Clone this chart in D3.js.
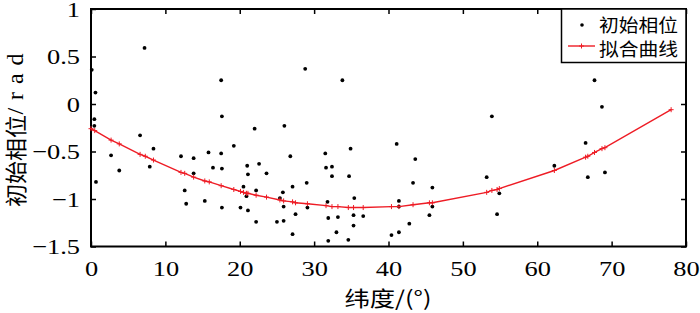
<!DOCTYPE html>
<html>
<head>
<meta charset="utf-8">
<script src="https://cdn.jsdelivr.net/npm/d3@7"></script>
<style>
  body { margin: 0; background: #fff; }
  svg { display: block; }
</style>
</head>
<body>
<svg id="chart"></svg>
<script>
// observed points: latitude (deg) and initial phase (rad)
var latitude = [0.1, 0.6, 0.45, 0.45, 0.67, 2.7, 3.8, 6.6, 7.2, 7.9, 8.4, 12.1, 12.6, 12.8, 13.8, 13.8,
  15.3, 15.8, 16.4, 17.5, 17.6, 17.5, 17.6, 17.6, 19.2, 20.1, 20.5, 20.9, 21.0, 21.1, 21.1, 22.0, 22.2,
  22.2, 22.6, 23.6, 25.0, 25.4, 25.8, 25.9, 25.9, 26.0, 26.8, 27.1, 27.1, 27.5, 28.8, 29.0, 29.1, 31.5,
  31.6, 31.8, 31.9, 31.9, 32.4, 32.4, 33.0, 33.2, 33.8, 34.6, 34.7, 34.9, 35.3, 35.3, 35.4, 36.6, 40.4,
  41.1, 41.4, 41.4, 41.4, 42.8, 43.3, 43.6, 45.5, 45.9, 45.9, 53.2, 53.9, 54.6, 54.9, 62.3, 66.5, 66.8,
  67.7, 68.7, 69.1];
var phase = [0.36, 0.12, -0.16, -0.23, -0.82, -0.54, -0.70, -0.33, 0.59, -0.66, -0.47, -0.55, -0.91, -1.05, -0.57, -0.73,
  -1.02, -0.51, -0.67, 0.25, -0.13, -0.52, -0.68, -1.09, -0.44, -1.09, -0.87, -0.97, -0.65, -0.74, -1.12, -0.26, -0.91,
  -1.24, -0.63, -0.73, -1.24, -0.99, -0.93, -1.08, -1.23, -0.23, -0.55, -0.87, -1.37, -1.16, 0.37, -0.83, -1.09, -0.52,
  -0.67, -1.03, -1.20, -1.44, -0.66, -0.76, -1.35, -1.19, 0.25, -1.43, -0.76, -0.47, -1.17, -1.28, -0.99, -1.18, -1.38,
  -0.42, -1.35, -1.02, -1.08, -1.26, -0.83, -0.58, -1.17, -0.88, -1.08, -0.77, -0.13, -1.16, -0.94, -0.65, -0.41, -0.77,
  0.25, -0.03, -0.72];

// fitted curve, read at the marker positions
var fitLat = [0, 0.5, 2.7, 3.8, 6.6, 7.3, 8.4, 12.1, 12.6, 13.8, 15.3, 15.9, 17.5, 19.2, 20.1, 20.5, 20.9, 21.1,
  22.2, 23.6, 25.4, 25.9, 27.1, 27.5, 29.1, 31.6, 32.4, 33.2, 34.6, 35.3, 36.6, 40.4, 41.4, 43.3, 45.5, 45.9,
  53.2, 53.9, 54.6, 54.9, 62.3, 66.5, 66.8, 67.7, 68.7, 69.1, 78.0];
var fitPhase = [-0.26, -0.28, -0.38, -0.42, -0.53, -0.55, -0.59, -0.72, -0.73, -0.77, -0.81, -0.82, -0.86, -0.90,
  -0.92, -0.93, -0.94, -0.94, -0.96, -0.98, -1.01, -1.02, -1.03, -1.04, -1.05, -1.07, -1.08, -1.08, -1.09, -1.09,
  -1.09, -1.08, -1.08, -1.06, -1.04, -1.04, -0.93, -0.91, -0.90, -0.89, -0.70, -0.56, -0.55, -0.51, -0.47, -0.46,
  -0.06];

var xTicks = [0, 10, 20, 30, 40, 50, 60, 70, 80];
var yTicks = [1, 0.5, 0, -0.5, -1, -1.5];
var legendNames = ["初始相位", "拟合曲线"];

var width = 700, height = 313;
var margin = { left: 91, right: 14, top: 9, bottom: 66.5 };
var red = "#ee1c25";
var serif = "'Liberation Serif', 'Times New Roman', Times, serif";
var cjk = "'Noto Sans CJK SC', sans-serif";

var svg = d3.select("#chart").attr("width", width).attr("height", height);

var x = d3.scaleLinear().domain([0, 80]).range([margin.left, width - margin.right]);
var y = d3.scaleLinear().domain([-1.5, 1]).range([height - margin.bottom, margin.top]);

// axes with inward ticks on all four sides
var bottom = svg.append("g")
  .attr("transform", "translate(0," + y(-1.5) + ")")
  .call(d3.axisBottom(x).tickValues(xTicks).tickSizeInner(-5).tickSizeOuter(0).tickPadding(14)
    .tickFormat(d3.format("d")));
var left = svg.append("g")
  .attr("transform", "translate(" + x(0) + ",0)")
  .call(d3.axisLeft(y).tickValues(yTicks).tickSizeInner(-5).tickSizeOuter(0).tickPadding(11)
    .tickFormat(function(d) { return d3.format("")(d).replace("-", "\u2212"); }));
svg.append("g")
  .attr("transform", "translate(0," + y(1) + ")")
  .call(d3.axisTop(x).tickValues(xTicks).tickSizeInner(-5).tickSizeOuter(0).tickFormat(""));
svg.append("g")
  .attr("transform", "translate(" + x(80) + ",0)")
  .call(d3.axisRight(y).tickValues(yTicks).tickSizeInner(-5).tickSizeOuter(0).tickFormat(""));

svg.selectAll(".domain").remove();
svg.selectAll(".tick line").attr("stroke", "#000").attr("stroke-width", 1.5);
svg.selectAll("g").attr("font-family", serif);

// tick labels: wide Times-like figures
bottom.selectAll(".tick text")
  .style("font-family", serif).attr("font-size", 22).attr("fill", "#000")
  .attr("transform", "scale(1.2,1)");
left.selectAll(".tick text")
  .style("font-family", serif).attr("font-size", 22).attr("fill", "#000")
  .attr("x", -11 / 1.2)
  .attr("transform", "scale(1.2,1)");

// plot frame
svg.append("rect")
  .attr("x", x(0)).attr("y", y(1))
  .attr("width", x(80) - x(0)).attr("height", y(-1.5) - y(1))
  .attr("fill", "none").attr("stroke", "#000").attr("stroke-width", 2);

// scatter points
svg.append("g").selectAll("circle")
  .data(d3.range(latitude.length))
  .enter().append("circle")
  .attr("cx", function(i) { return x(latitude[i]); })
  .attr("cy", function(i) { return y(phase[i]); })
  .attr("r", 1.9)
  .attr("fill", "#000");

// fitted curve with markers
var fit = d3.range(fitLat.length);
svg.append("path")
  .datum(fit)
  .attr("fill", "none")
  .attr("stroke", red)
  .attr("stroke-width", 1.4)
  .attr("d", d3.line()
    .x(function(i) { return x(fitLat[i]); })
    .y(function(i) { return y(fitPhase[i]); }));
svg.append("g").selectAll("path")
  .data(fit)
  .enter().append("path")
  .attr("transform", function(i) { return "translate(" + x(fitLat[i]) + "," + y(fitPhase[i]) + ")"; })
  .attr("d", "M-2.5,0H2.5M0,-2.5V2.5")
  .attr("stroke", red)
  .attr("stroke-width", 1);

// legend
var legend = svg.append("g");
legend.append("rect")
  .attr("x", 561.5).attr("y", y(1))
  .attr("width", x(80) - 561.5).attr("height", 53.5)
  .attr("fill", "#fff").attr("stroke", "#000").attr("stroke-width", 1.5);
legend.append("circle")
  .attr("cx", 582).attr("cy", 25).attr("r", 1.8).attr("fill", "#000");
legend.append("line")
  .attr("x1", 568).attr("x2", 595).attr("y1", 46).attr("y2", 46)
  .attr("stroke", red).attr("stroke-width", 1.4);
legend.append("path")
  .attr("transform", "translate(581.5,46)")
  .attr("d", "M-2.5,0H2.5M0,-2.5V2.5")
  .attr("stroke", red).attr("stroke-width", 1);
legend.selectAll("text")
  .data(legendNames)
  .enter().append("text")
  .attr("x", 599)
  .attr("y", function(d, i) { return 31.5 + i * 24; })
  .attr("font-family", cjk)
  .attr("font-size", 18)
  .attr("textLength", 79)
  .attr("lengthAdjust", "spacingAndGlyphs")
  .text(function(d) { return d; });

// x axis title
svg.append("text")
  .attr("x", 388).attr("y", 306)
  .attr("text-anchor", "middle")
  .attr("font-family", cjk)
  .attr("font-size", 21)
  .attr("textLength", 87)
  .attr("lengthAdjust", "spacingAndGlyphs")
  .text("纬度/(°)");

// y axis title, rotated
var ytitle = svg.append("g").attr("transform", "translate(24,129.5) rotate(-90)");
ytitle.append("text")
  .attr("x", -77.5).attr("y", 0)
  .attr("font-family", cjk)
  .attr("font-size", 22)
  .attr("textLength", 92)
  .attr("lengthAdjust", "spacingAndGlyphs")
  .text("初始相位");
ytitle.append("text")
  .attr("x", 15).attr("y", -1)
  .style("font-family", serif)
  .attr("font-size", 24)
  .attr("textLength", 61)
  .attr("lengthAdjust", "spacing")
  .text("/rad");
</script>
</body>
</html>
